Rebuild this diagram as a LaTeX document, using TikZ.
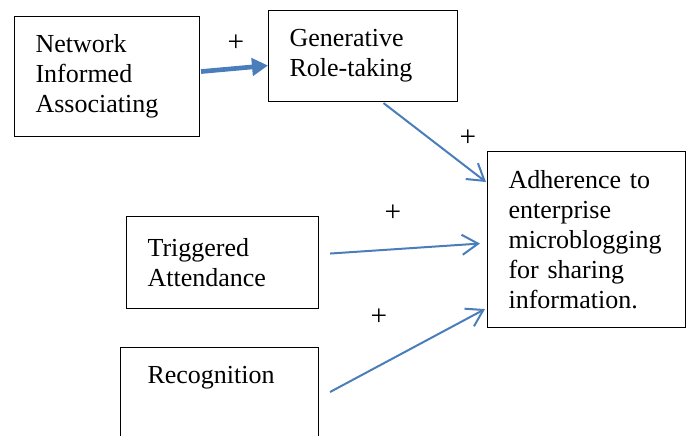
\documentclass[tikz,border=0pt]{standalone}
\usepackage{fontspec}
\setmainfont{Liberation Serif}
\usetikzlibrary{arrows.meta}
\definecolor{linkblue}{RGB}{74,126,187}
\begin{document}
\begin{tikzpicture}[x=0.75pt, y=-0.75pt]
\tikzstyle{box}=[draw, line width=0.8pt, anchor=north west, align=left, inner xsep=15.75pt, inner ysep=0pt, font=\fontsize{19.5}{22.5}\selectfont]
\tikzstyle{plus}=[inner sep=0pt, font=\fontsize{22}{24}\selectfont]
\tikzstyle{link}=[draw=linkblue, line width=1.5pt, -{Straight Barb[length=12pt,width=15pt]}]
\useasboundingbox (0,0) rectangle (687,436);
\clip (0,0) rectangle (687,436);
%
\node[box, text width=107.25pt, minimum height=90pt](net) at (14,16) {Network\\Informed\\Associating};
\node[box, text width=110.25pt, minimum height=68.25pt](gen) at (268,10) {Generative\\Role-taking};
\node[box, text width=117pt, minimum height=132pt](adh) at (487,151) {Adherence to\\enterprise\\microblogging\\for sharing\\information.};
\node[box, text width=112.5pt, minimum height=69pt](trig) at (126,216) {Triggered\\Attendance};
\node[box, text width=108pt, inner xsep=20.25pt, inner ysep=4.5pt, text height=22.5pt, text depth=45pt](rec) at (120,347) {Recognition};
%
\node[plus](p1) at (236,43) {+};
\node[plus](p2) at (468,138) {+};
\node[plus](p3) at (393,213) {+};
\node[plus](p4) at (379,317) {+};
%
\draw[draw=linkblue, line width=3.5pt, -{Triangle[length=12pt,width=13pt]}] ([shift={(1,-5)}]net.east) -- ([shift={(0,9.5)}]gen.west);
\draw[link] ([shift={(20.5,1)}]gen.south) -- ([shift={(-1,31)}]adh.north west);
\draw[link] ([shift={(11,-9)}]trig.east) -- ([shift={(-7,4)}]adh.west);
\draw[link] ([shift={(11,45)}]rec.north east) -- ([shift={(-2,-19)}]adh.south west);
\end{tikzpicture}
\end{document}
